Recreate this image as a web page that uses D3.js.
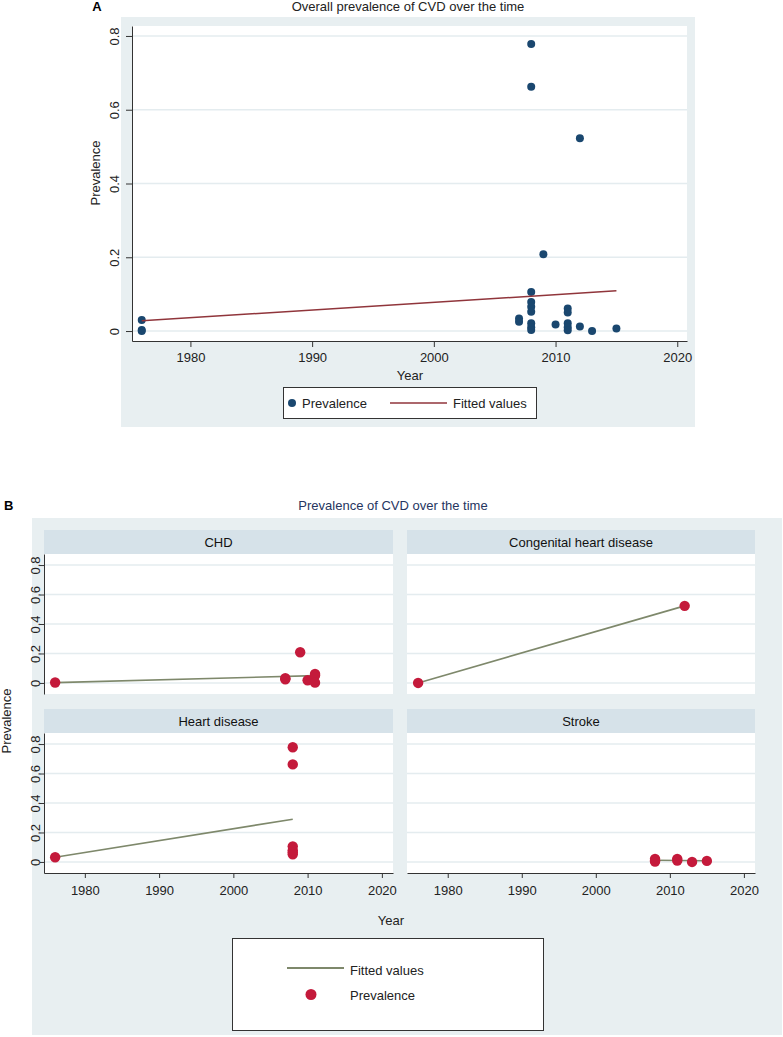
<!DOCTYPE html>
<html>
<head>
<meta charset="utf-8">
<script src="https://d3js.org/d3.v7.min.js"></script>
<style>
  body { margin: 0; background: #fff; }
  svg { font-family: 'Liberation Sans', Arial, Helvetica, sans-serif; }
  .axis path, .axis line { stroke: #333; }
  .axis text { fill: #222; font-size: 13px; }
</style>
</head>
<body>
<div id="chart"></div>
<script>
// ---- panel A: all studies together
var yearsA = [1976, 1976, 1976, 2007, 2007,
  2008, 2008, 2008, 2008, 2008, 2008, 2008, 2008, 2008,
  2009, 2010, 2011, 2011, 2011, 2011, 2011, 2012, 2012, 2013, 2015];
var prevA = [0.030, 0.003, 0.000, 0.034, 0.025,
  0.778, 0.662, 0.106, 0.079, 0.066, 0.052, 0.021, 0.010, 0.003,
  0.208, 0.018, 0.061, 0.050, 0.021, 0.010, 0.002, 0.523, 0.012, 0.000, 0.007];
var fitYearsA = [1976, 2015];
var fitPrevA = [0.028, 0.109];

// ---- panel B: by type of CVD
var groups = ["CHD", "Congenital heart disease", "Heart disease", "Stroke"];

var chdYears = [1976, 2007, 2007, 2009, 2010, 2011, 2011, 2011];
var chdPrev = [0.003, 0.032, 0.025, 0.208, 0.018, 0.061, 0.050, 0.002];
var congYears = [1976, 2012];
var congPrev = [0.000, 0.523];
var heartYears = [1976, 2008, 2008, 2008, 2008, 2008, 2008];
var heartPrev = [0.032, 0.778, 0.662, 0.106, 0.079, 0.066, 0.052];
var strokeYears = [2008, 2008, 2008, 2011, 2011, 2013, 2015];
var strokePrev = [0.021, 0.010, 0.003, 0.021, 0.010, 0.000, 0.007];

var fitYearsB = [[1976, 2011], [1976, 2012], [1976, 2008], [2008, 2015]];
var fitPrevB = [[0.002, 0.050], [0.000, 0.523], [0.032, 0.290], [0.012, 0.008]];

var xTicks = [1980, 1990, 2000, 2010, 2020];
var yTicks = [0, 0.2, 0.4, 0.6, 0.8];
var yLabels = ["0", "0.2", "0.4", "0.6", "0.8"];

var bg = "#e8eff1", strip = "#d6e2e9", grid = "#e4ecef";

var svg = d3.select("#chart").append("svg")
  .attr("width", 783).attr("height", 1037);

function zip(a, b) { return a.map(function(d, i) { return [d, b[i]]; }); }

function gridlines(g, y, x0, x1) {
  g.selectAll(null).data(yTicks).enter().append("line")
    .attr("x1", x0).attr("x2", x1)
    .attr("y1", function(d) { return y(d); }).attr("y2", function(d) { return y(d); })
    .attr("stroke", grid).attr("stroke-width", 1.6);
}

function leftAxis(x0, y, size, off) {
  var g = svg.append("g").attr("class", "axis")
    .attr("transform", "translate(" + x0 + ",0)")
    .call(d3.axisLeft(y).tickValues(yTicks).tickSize(size).tickSizeOuter(0)
      .tickFormat(function(d, i) { return yLabels[i]; }));
  g.selectAll("text").attr("x", null).attr("dy", null)
    .attr("text-anchor", "middle")
    .attr("transform", "translate(" + off + ",0) rotate(-90)");
  return g;
}

function bottomAxis(y0, x, size, pad) {
  return svg.append("g").attr("class", "axis")
    .attr("transform", "translate(0," + y0 + ")")
    .call(d3.axisBottom(x).tickValues(xTicks).tickSize(size).tickSizeOuter(0)
      .tickPadding(pad).tickFormat(d3.format("d")));
}

// =============== Panel A ===============
svg.append("rect").attr("x", 121).attr("y", 17).attr("width", 574).attr("height", 410).attr("fill", bg);
svg.append("rect").attr("x", 132).attr("y", 26).attr("width", 555).attr("height", 315).attr("fill", "#fff");

svg.append("text").attr("x", 97).attr("y", 11).attr("font-size", 13).attr("font-weight", "bold")
  .attr("text-anchor", "middle").text("A");
svg.append("text").attr("x", 408).attr("y", 11).attr("font-size", 13).attr("fill", "#222")
  .attr("text-anchor", "middle").text("Overall prevalence of CVD over the time");

var xA = d3.scaleLinear().domain([1975.2, 2020.8]).range([132, 687]);
var yA = d3.scaleLinear().domain([-0.027, 0.827]).range([341, 26]);

gridlines(svg.append("g"), yA, 132, 687);
leftAxis(132, yA, 6, -13);
bottomAxis(341, xA, 6, 6);

svg.append("text").attr("transform", "translate(100,173) rotate(-90)")
  .attr("text-anchor", "middle").attr("font-size", 13).attr("fill", "#222").text("Prevalence");
svg.append("text").attr("x", 410).attr("y", 380).attr("text-anchor", "middle")
  .attr("font-size", 13).attr("fill", "#222").text("Year");

svg.append("g").selectAll("circle").data(zip(yearsA, prevA)).enter().append("circle")
  .attr("cx", function(d) { return xA(d[0]); }).attr("cy", function(d) { return yA(d[1]); })
  .attr("r", 4).attr("fill", "#1a476f");

svg.append("path").datum(zip(fitYearsA, fitPrevA))
  .attr("d", d3.line().x(function(d) { return xA(d[0]); }).y(function(d) { return yA(d[1]); }))
  .attr("fill", "none").attr("stroke", "#90353b").attr("stroke-width", 1.5);

// legend A
svg.append("rect").attr("x", 283.5).attr("y", 387.5).attr("width", 253).attr("height", 31)
  .attr("fill", "#fff").attr("stroke", "#333").attr("stroke-width", 1);
svg.append("circle").attr("cx", 292).attr("cy", 403).attr("r", 4).attr("fill", "#1a476f");
svg.append("text").attr("x", 302).attr("y", 407.5).attr("font-size", 13).attr("fill", "#222").text("Prevalence");
svg.append("line").attr("x1", 390).attr("x2", 447).attr("y1", 403).attr("y2", 403)
  .attr("stroke", "#90353b").attr("stroke-width", 1.5);
svg.append("text").attr("x", 453).attr("y", 407.5).attr("font-size", 13).attr("fill", "#222").text("Fitted values");

// =============== Panel B ===============
svg.append("rect").attr("x", 32).attr("y", 518).attr("width", 750).attr("height", 517).attr("fill", bg);

svg.append("text").attr("x", 4).attr("y", 510).attr("font-size", 13).attr("font-weight", "bold").text("B");
svg.append("text").attr("x", 393).attr("y", 509.5).attr("font-size", 13).attr("fill", "#26365f")
  .attr("text-anchor", "middle").text("Prevalence of CVD over the time");

var colsX = [[44, 393], [407, 755]];
var rowsY = [[554, 694], [733, 873]];
var pointsB = [zip(chdYears, chdPrev), zip(congYears, congPrev), zip(heartYears, heartPrev), zip(strokeYears, strokePrev)];
var red = "#c41a3b", olive = "#7e886b";

groups.forEach(function(name, i) {
  var c = colsX[i % 2], r = rowsY[Math.floor(i / 2)];
  var x = d3.scaleLinear().domain([1974.5, 2021.5]).range(c);
  var y = d3.scaleLinear().domain([-0.075, 0.875]).range([r[1], r[0]]);

  svg.append("rect").attr("x", c[0]).attr("y", r[0] - 24).attr("width", c[1] - c[0]).attr("height", 24).attr("fill", strip);
  svg.append("text").attr("x", (c[0] + c[1]) / 2).attr("y", r[0] - 7.5).attr("text-anchor", "middle")
    .attr("font-size", 13).attr("fill", "#111").text(name);
  svg.append("rect").attr("x", c[0]).attr("y", r[0]).attr("width", c[1] - c[0]).attr("height", r[1] - r[0]).attr("fill", "#fff");
  gridlines(svg.append("g"), y, c[0], c[1]);

  if (i % 2 === 0) leftAxis(c[0], y, 4, -4.5);
  if (i >= 2) bottomAxis(r[1], x, 5, 8);

  svg.append("path").datum(zip(fitYearsB[i], fitPrevB[i]))
    .attr("d", d3.line().x(function(d) { return x(d[0]); }).y(function(d) { return y(d[1]); }))
    .attr("fill", "none").attr("stroke", olive).attr("stroke-width", 1.6);

  svg.append("g").selectAll("circle").data(pointsB[i]).enter().append("circle")
    .attr("cx", function(d) { return x(d[0]); }).attr("cy", function(d) { return y(d[1]); })
    .attr("r", 5.2).attr("fill", red);
});

svg.append("text").attr("transform", "translate(11,721) rotate(-90)")
  .attr("text-anchor", "middle").attr("font-size", 13).attr("fill", "#222").text("Prevalence");
svg.append("text").attr("x", 391).attr("y", 925).attr("text-anchor", "middle")
  .attr("font-size", 13).attr("fill", "#222").text("Year");

// legend B
svg.append("rect").attr("x", 232.5).attr("y", 938.5).attr("width", 311).attr("height", 92)
  .attr("fill", "#fff").attr("stroke", "#333").attr("stroke-width", 1);
svg.append("line").attr("x1", 287).attr("x2", 344).attr("y1", 968).attr("y2", 968)
  .attr("stroke", olive).attr("stroke-width", 2);
svg.append("text").attr("x", 350).attr("y", 974.5).attr("font-size", 13).attr("fill", "#222").text("Fitted values");
svg.append("circle").attr("cx", 311).attr("cy", 994.5).attr("r", 5.5).attr("fill", red);
svg.append("text").attr("x", 350).attr("y", 999.5).attr("font-size", 13).attr("fill", "#222").text("Prevalence");
</script>
</body>
</html>
